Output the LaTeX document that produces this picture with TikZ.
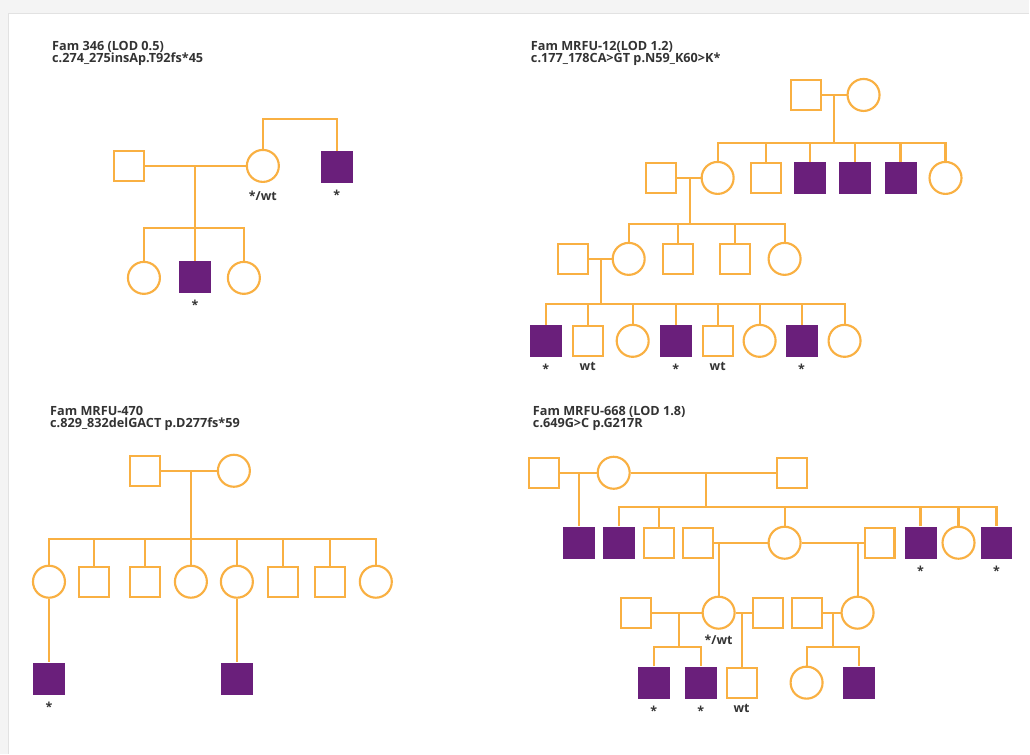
\documentclass[tikz,border=0pt]{standalone}
\usepackage{fontspec}
\setmainfont{Open Sans}
\usepackage{xcolor}
\usepackage{tikz}
\usetikzlibrary{positioning}
\definecolor{pedorange}{HTML}{F9B042}
\definecolor{pedpurple}{HTML}{6A1F7B}
\definecolor{txtgray}{HTML}{333333}
\definecolor{pagegray}{HTML}{F4F4F4}
\definecolor{edgegray}{HTML}{E2E2E2}

\begin{document}
\begin{tikzpicture}[x=0.75pt, y=-0.75pt, node distance=2pt,
  ped/.style={draw=pedorange, line width=1.6pt},
  male/.style={ped, rectangle, minimum size=22.5pt, inner sep=0pt},
  female/.style={ped, circle, minimum size=24pt, inner sep=0pt},
  affm/.style={rectangle, fill=pedpurple, minimum size=24pt, inner sep=0pt},
  lbl/.style={font=\fontsize{9.3}{10}\selectfont\bfseries, text=txtgray, inner sep=0pt},
  ttl/.style={font=\fontsize{9.5}{9.3}\selectfont\bfseries, text=txtgray, align=left, anchor=north west, inner sep=0pt}]
  % page and panel
  \fill[pagegray] (0,0) rectangle (1030,754);
  \fill[white] (9,14) rectangle (1030,754);
  \draw[edgegray, line width=0.8pt] (8.5,754) -- (8.5,13.5) -- (1030,13.5);

  % Fam 346
  \node[ttl] (t1) at (52,41) {Fam 346 (LOD 0.5)\\c.274\_275insAp.T92fs*45};
  \node[male] (a1) at (129,166) {}; \node[female] (a2) at (263,166) {}; \node[affm] (a3) at (337,167) {};
  \node[female] (b1) at (144,278) {}; \node[affm] (b2) at (195,277) {}; \node[female] (b3) at (244,278) {};
  \coordinate (j1) at (195,166); \coordinate (s1) at (195,228); \coordinate (u1) at (300,119);
  \draw[ped] (a1) -- (a2); \draw[ped] (j1) -- (b2.north);
  \draw[ped] (b1.north) |- (s1) -| (b3.north);
  \draw[ped] (a2.north) |- (u1) -| (a3.north);
  \node[lbl, below=6pt of a2] {*/wt}; \node[lbl, below=5pt of a3] {*}; \node[lbl, below=5pt of b2] {*};

  % Fam MRFU-12
  \node[ttl] (t2) at (531,41) {Fam MRFU-12(LOD 1.2)\\c.177\_178CA>GT p.N59\_K60>K*};
  \node[male] (c1) at (806,95) {}; \node[female] (c2) at (864,95) {};
  \coordinate (j2) at (834,95); \coordinate (s2) at (834,143);
  \draw[ped] (c1) -- (c2); \draw[ped] (j2) -- (s2);
  \node[male] (d0) at (661,178) {}; \node[female] (d1) at (718,178) {}; \node[male] (d2) at (766,178) {};
  \node[affm] (d3) at (810,178) {}; \node[affm] (d4) at (855,178) {}; \node[affm] (d5) at (901,178) {};
  \node[female] (d6) at (946,178) {};
  \draw[ped] (d1.north) |- (s2) -| (d6.north);
  \draw[ped] (d2.north) -- (d2.north |- s2); \draw[ped] (d3.north) -- (d3.north |- s2);
  \draw[ped] (d4.north) -- (d4.north |- s2); \draw[ped] (d5.north) -- (d5.north |- s2);
  \coordinate (j3) at (690,178); \coordinate (s3) at (690,224);
  \draw[ped] (d0) -- (d1); \draw[ped] (j3) -- (s3);
  \node[male] (e0) at (573,259) {}; \node[female] (e1) at (629,259) {}; \node[male] (e2) at (678,259) {};
  \node[male] (e3) at (735,259) {}; \node[female] (e4) at (785,259) {};
  \draw[ped] (e1.north) |- (s3) -| (e4.north);
  \draw[ped] (e2.north) -- (e2.north |- s3); \draw[ped] (e3.north) -- (e3.north |- s3);
  \coordinate (j4) at (601,259); \coordinate (s4) at (601,304);
  \draw[ped] (e0) -- (e1); \draw[ped] (j4) -- (s4);
  \node[affm] (f1) at (546,341) {}; \node[male] (f2) at (588,341) {}; \node[female] (f3) at (633,341) {};
  \node[affm] (f4) at (676,341) {}; \node[male] (f5) at (718,341) {}; \node[female] (f6) at (760,341) {};
  \node[affm] (f7) at (802,341) {}; \node[female] (f8) at (845,341) {};
  \draw[ped] (f1.north) |- (s4) -| (f8.north);
  \draw[ped] (f2.north) -- (f2.north |- s4); \draw[ped] (f3.north) -- (f3.north |- s4);
  \draw[ped] (f4.north) -- (f4.north |- s4); \draw[ped] (f5.north) -- (f5.north |- s4);
  \draw[ped] (f6.north) -- (f6.north |- s4); \draw[ped] (f7.north) -- (f7.north |- s4);
  \node[lbl, below=5pt of f1] {*}; \node[lbl, below=4pt of f2] {wt}; \node[lbl, below=5pt of f4] {*};
  \node[lbl, below=4pt of f5] {wt}; \node[lbl, below=5pt of f7] {*};

  % Fam MRFU-470
  \node[ttl] (t3) at (50,406) {Fam MRFU-470\\c.829\_832delGACT p.D277fs*59};
  \node[male] (g1) at (145,471) {}; \node[female] (g2) at (234,471) {};
  \coordinate (j5) at (191,471); \coordinate (s5) at (191,539);
  \draw[ped] (g1) -- (g2); \draw[ped] (j5) -- (s5);
  \node[female] (h1) at (49,582) {}; \node[male] (h2) at (94,582) {}; \node[male] (h3) at (145,582) {};
  \node[female] (h4) at (191,582) {}; \node[female] (h5) at (237,582) {}; \node[male] (h6) at (283,582) {};
  \node[male] (h7) at (330,582) {}; \node[female] (h8) at (376,582) {};
  \draw[ped] (h1.north) |- (s5) -| (h8.north);
  \draw[ped] (h2.north) -- (h2.north |- s5); \draw[ped] (h3.north) -- (h3.north |- s5);
  \draw[ped] (h4.north) -- (h4.north |- s5); \draw[ped] (h5.north) -- (h5.north |- s5);
  \draw[ped] (h6.north) -- (h6.north |- s5); \draw[ped] (h7.north) -- (h7.north |- s5);
  \node[affm] (k1) at (49,679) {}; \node[affm] (k2) at (237,679) {};
  \draw[ped] (h1) -- (k1); \draw[ped] (h5) -- (k2);
  \node[lbl, below=5pt of k1] {*};

  % Fam MRFU-668
  \node[ttl] (t4) at (533,406) {Fam MRFU-668 (LOD 1.8)\\c.649G>C p.G217R};
  \node[male] (m1) at (544,473) {}; \node[female] (m2) at (614,473) {}; \node[male] (m3) at (792,473) {};
  \coordinate (j6) at (579,473); \coordinate (j7) at (706,473); \coordinate (s7) at (706,507);
  \draw[ped] (m1) -- (m2); \draw[ped] (m2) -- (m3); \draw[ped] (j7) -- (s7);
  \node[affm] (n1) at (579,543) {}; \draw[ped] (j6) -- (n1);
  \node[affm] (n2) at (619,543) {}; \node[male] (n3) at (659,543) {}; \node[male] (p1) at (698,543) {};
  \node[female] (n4) at (785,543) {}; \node[male] (p2) at (880,543) {}; \node[affm] (n5) at (921,543) {};
  \node[female] (n6) at (959,543) {}; \node[affm] (n7) at (997,543) {};
  \draw[ped] (n2.north) |- (s7) -| (n7.north);
  \draw[ped] (n3.north) -- (n3.north |- s7); \draw[ped] (n4.north) -- (n4.north |- s7);
  \draw[ped] (n5.north) -- (n5.north |- s7); \draw[ped] (n6.north) -- (n6.north |- s7);
  \node[lbl, below=5pt of n5] {*}; \node[lbl, below=5pt of n7] {*};
  \coordinate (j8) at (719,543); \coordinate (j9) at (858,543);
  \draw[ped] (p1) -- (n4); \draw[ped] (n4) -- (p2);
  \node[male] (q1) at (636,613) {}; \node[female] (q2) at (719,613) {}; \node[male] (q3) at (768,613) {};
  \node[male] (q4) at (807,613) {}; \node[female] (q5) at (858,613) {};
  \draw[ped] (j8) -- (q2); \draw[ped] (j9) -- (q5);
  \node[lbl, below=4pt of q2] {*/wt};
  \coordinate (j10) at (679,613); \coordinate (s10) at (679,647);
  \draw[ped] (q1) -- (q2); \draw[ped] (j10) -- (s10);
  \node[affm] (r1) at (654,683) {}; \node[affm] (r2) at (701,683) {};
  \draw[ped] (r1.north) |- (s10) -| (r2.north);
  \coordinate (j11) at (742,613);
  \draw[ped] (q2) -- (q3);
  \node[male] (r3) at (742,683) {}; \draw[ped] (j11) -- (r3);
  \coordinate (j12) at (833,613); \coordinate (s12) at (833,647);
  \draw[ped] (q4) -- (q5); \draw[ped] (j12) -- (s12);
  \node[female] (r4) at (807,683) {}; \node[affm] (r5) at (859,683) {};
  \draw[ped] (r4.north) |- (s12) -| (r5.north);
  \node[lbl, below=5pt of r1] {*}; \node[lbl, below=5pt of r2] {*}; \node[lbl, below=4pt of r3] {wt};
\end{tikzpicture}
\end{document}
